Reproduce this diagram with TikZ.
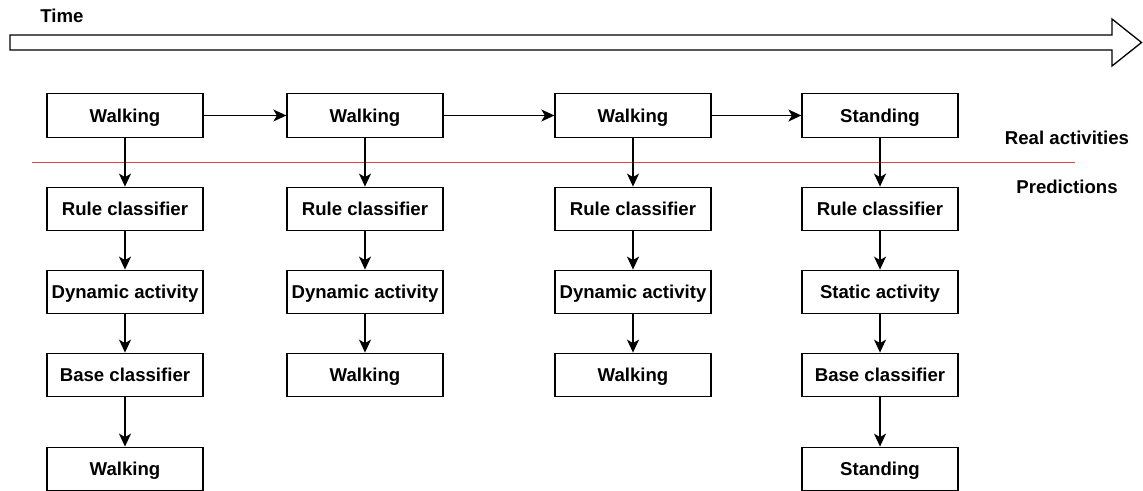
\documentclass[tikz,border=0pt]{standalone}
\usepackage{fontspec}
\setmainfont{Liberation Sans}
\usetikzlibrary{arrows.meta}
\definecolor{sepred}{RGB}{222,70,70}
\tikzset{
  stagebox/.style={draw=black, line width=1.3pt, fill=white, minimum width=156pt,
    minimum height=43.5pt, inner sep=0pt, text height=13.2pt, text depth=0pt,
    font=\fontsize{18.6}{22}\selectfont\bfseries},
  flow/.style={line width=1.4pt, -{Stealth[length=13pt,width=12pt,inset=3.5pt]}},
  lbl/.style={font=\fontsize{18.6}{22}\selectfont\bfseries, inner sep=0pt}
}
\begin{document}
\begin{tikzpicture}[x=1pt, y=-1pt]
\useasboundingbox (0,0) rectangle (1143,490);

% time axis arrow
\draw[line width=1.3pt, fill=white] (10,35) -- (1112,35) -- (1112,19) -- (1141.5,42.5)
  -- (1112,66) -- (1112,50) -- (10,50) -- cycle;
\node[lbl] (time) at (62,16) {Time};

% separator between real activities and predictions
\draw[sepred, line width=1pt] (32,162) -- (1075,162);
\node[lbl] (real) at (1067,138) {Real activities};
\node[lbl] (pred) at (1067,187) {Predictions};

% column 1
\node[stagebox] (a1) at (125,115.5) {Walking};
\node[stagebox] (a2) at (125,209) {Rule classifier};
\node[stagebox] (a3) at (125,292) {Dynamic activity};
\node[stagebox] (a4) at (125,375) {Base classifier};
\node[stagebox] (a5) at (125,469) {Walking};

% column 2
\node[stagebox] (b1) at (365,115.5) {Walking};
\node[stagebox] (b2) at (365,209) {Rule classifier};
\node[stagebox] (b3) at (365,292) {Dynamic activity};
\node[stagebox] (b4) at (365,375) {Walking};

% column 3
\node[stagebox] (c1) at (633,115.5) {Walking};
\node[stagebox] (c2) at (633,209) {Rule classifier};
\node[stagebox] (c3) at (633,292) {Dynamic activity};
\node[stagebox] (c4) at (633,375) {Walking};

% column 4
\node[stagebox] (d1) at (880,115.5) {Standing};
\node[stagebox] (d2) at (880,209) {Rule classifier};
\node[stagebox] (d3) at (880,292) {Static activity};
\node[stagebox] (d4) at (880,375) {Base classifier};
\node[stagebox] (d5) at (880,469) {Standing};

% real activity sequence
\draw[flow] (a1) -- (b1);
\draw[flow] (b1) -- (c1);
\draw[flow] (c1) -- (d1);

% prediction chains
\draw[flow] (a1) -- (a2);
\draw[flow] (a2) -- (a3);
\draw[flow] (a3) -- (a4);
\draw[flow] (a4) -- (a5);
\draw[flow] (b1) -- (b2);
\draw[flow] (b2) -- (b3);
\draw[flow] (b3) -- (b4);
\draw[flow] (c1) -- (c2);
\draw[flow] (c2) -- (c3);
\draw[flow] (c3) -- (c4);
\draw[flow] (d1) -- (d2);
\draw[flow] (d2) -- (d3);
\draw[flow] (d3) -- (d4);
\draw[flow] (d4) -- (d5);
\end{tikzpicture}
\end{document}
